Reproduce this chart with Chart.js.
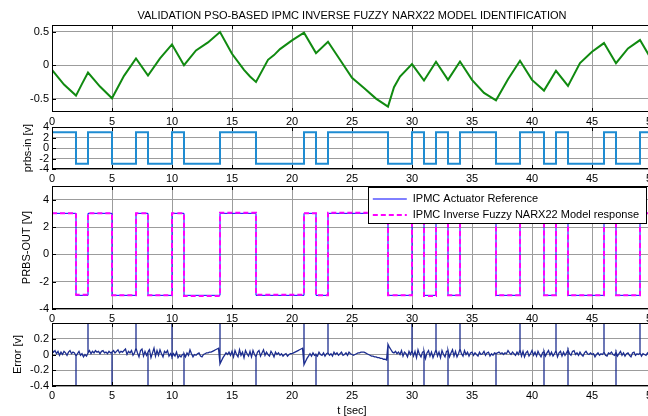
<!DOCTYPE html>
<html>
<head>
<meta charset="utf-8">
<script src="https://cdn.jsdelivr.net/npm/chart.js@4.4.1/dist/chart.umd.min.js"></script>
<style>
  html, body { margin: 0; padding: 0; background: #fff; }
  #wrap { position: relative; width: 648px; height: 416px; overflow: hidden; background: #fff; }
  #wrap canvas { position: absolute; left: 0; }
</style>
</head>
<body>
<div id="wrap">
  <canvas id="c1" width="700" height="132" style="top:0px"></canvas>
  <canvas id="c2" width="700" height="72" style="top:117px"></canvas>
  <canvas id="c3" width="700" height="153" style="top:176px"></canvas>
  <canvas id="c4" width="700" height="105" style="top:313px"></canvas>
</div>
<script>
// ---- data ----
const xTicks = [0, 5, 10, 15, 20, 25, 30, 35, 40, 45, 50];
const yTicksTop = [-0.5, 0, 0.5];
const yTicksIn = [-4, -2, 0, 2, 4];
const yTicksOut = [-4, -2, 0, 2, 4];
const yTicksErr = [-0.4, -0.2, 0, 0.2];

// top panel (green)
const greenT = [0, 1, 2, 2.5, 3, 4, 5, 6, 7, 8, 9, 10, 11, 12, 13, 14, 15, 16, 16.5, 17,
  18, 18.5, 19, 20, 21, 22, 23, 24, 25, 26, 27, 28, 28.5, 29, 30, 31, 32, 33, 34, 35,
  36, 37, 38, 39, 40, 41, 42, 43, 44, 45, 46, 47, 48, 49, 50];
const greenV = [-0.07, -0.29, -0.455, -0.28, -0.11, -0.32, -0.495, -0.16, 0.10, -0.155, 0.10, 0.31, 0.00, 0.22, 0.34, 0.495, 0.17, -0.07, -0.17, -0.25,
  0.08, 0.15, 0.24, 0.37, 0.485, 0.18, 0.35, 0.08, -0.19, -0.34, -0.50, -0.62, -0.33, -0.17, 0.015, -0.23, 0.05, -0.22, 0.055, -0.22,
  -0.415, -0.525, -0.21, 0.065, -0.22, -0.38, -0.085, -0.31, 0.03, 0.20, 0.33, 0.03, 0.25, 0.375, 0.07];

// PRBS switching instants and the level held from each instant
const prbsT = [0, 2, 3, 5, 7, 8, 10, 11, 14, 17, 21, 22, 23, 28, 30, 31, 32, 33, 34, 37, 39, 41, 42, 43, 46, 47, 49, 50];
const prbsIn = [3, -3, 3, -3, 3, -3, 3, -3, 3, -3, 3, -3, 3, -3, 3, -3, 3, -3, 3, -3, 3, -3, 3, -3, 3, -3, 3, 3];
const refOut = [3, -3, 3, -3, 3, -3, 3, -3, 3, -3, 3, -3, 3, -3, 3, -3, 3, -3, 3, -3, 3, -3, 3, -3, 3, -3, 3, 3];
const modelOut = [3.0, -2.95, 3.0, -3.0, 3.0, -3.0, 3.0, -3.05, 3.05, -2.95, 3.0, -3.0, 3.05, -3.0, 3.0, -3.05, 3.0, -3.0, 3.0, -3.0, 3.0, -3.0, 3.0, -3.0, 3.0, -3.0, 3.0, 3.0];

// error, one sample every 0.125 s from 0 to 50 (one row per second)
const errDt = 0.125;
const errV = [
  0.06, 0.03, 0.05, 0.01, 0.04, -0.01, 0.03, 0.00,
  0.04, 0.02, -0.01, 0.03, 0.05, 0.01, 0.03, 0.02,
  -0.02, 0.01, 0.04, -0.01, 0.01, -0.03, 0.00, -0.02,
  0.02, 0.05, 0.01, 0.04, 0.02, 0.05, 0.03, 0.04,
  0.01, 0.04, 0.05, 0.02, 0.03, 0.01, 0.04, 0.02,
  0.03, 0.05, 0.02, 0.04, 0.06, 0.02, 0.04, 0.03,
  0.05, 0.07, 0.00, 0.04, 0.02, 0.05, -0.01, 0.02,
  0.08, 0.02, -0.03, 0.05, 0.07, -0.02, 0.04, -0.01,
  0.03, 0.06, -0.04, 0.02, 0.08, -0.02, 0.05, -0.01,
  0.06, 0.01, -0.03, 0.04, 0.02, 0.05, -0.02, 0.01,
  -0.03, 0.01, -0.02, 0.03, -0.04, -0.01, -0.03, 0.00,
  0.01, -0.03, 0.02, -0.01, 0.06, 0.01, -0.03, 0.00,
  -0.01, 0.01, 0.02, -0.02, -0.03, 0.00, 0.01, 0.02,
  0.02, 0.03, 0.03, 0.04, 0.05, 0.06, 0.07, 0.08,
  -0.12, -0.08, -0.04, -0.01, 0.02, 0.00, 0.03, -0.01,
  0.04, -0.03, 0.05, 0.00, -0.03, 0.06, -0.01, 0.03,
  -0.04, 0.05, 0.01, -0.02, 0.04, -0.03, 0.05, 0.00,
  -0.03, 0.03, 0.05, -0.02, 0.02, 0.06, -0.01, 0.03,
  0.00, -0.02, 0.04, 0.01, -0.03, 0.03, 0.00, 0.02,
  -0.01, 0.01, -0.02, 0.00, 0.01, -0.02, 0.00, 0.01,
  0.01, 0.02, 0.03, 0.04, 0.05, 0.06, 0.07, 0.08,
  -0.13, -0.09, -0.05, -0.02, 0.01, -0.02, 0.02, -0.01,
  0.00, -0.02, 0.03, 0.00, -0.01, 0.02, -0.02, 0.01,
  0.02, -0.01, 0.01, -0.02, 0.03, 0.00, 0.02, -0.01,
  0.01, 0.03, -0.01, 0.00, 0.02, -0.01, 0.03, 0.01,
  0.00, -0.01, 0.00, 0.01, 0.02, 0.02, 0.03, 0.03,
  0.03, 0.02, 0.01, 0.00, -0.01, -0.02, -0.02, -0.03,
  -0.03, -0.04, -0.04, -0.05, -0.05, -0.06, -0.06, -0.07,
  0.13, 0.09, 0.06, 0.03, 0.02, 0.04, 0.01, 0.03,
  0.00, 0.05, -0.02, 0.03, 0.01, -0.03, 0.04, 0.00,
  0.05, -0.02, 0.04, -0.04, 0.06, 0.00, -0.03, 0.03,
  0.04, -0.05, 0.02, 0.05, -0.02, 0.03, -0.04, 0.01,
  0.06, -0.02, 0.03, -0.04, 0.05, 0.00, -0.03, 0.04,
  0.05, -0.03, 0.02, 0.06, -0.02, 0.04, -0.03, 0.01,
  0.07, 0.01, -0.02, 0.05, 0.00, 0.03, -0.02, 0.02,
  0.03, -0.01, 0.02, 0.00, -0.02, 0.03, 0.00, 0.01,
  0.04, -0.01, 0.02, 0.03, -0.02, 0.01, -0.01, 0.02,
  0.01, 0.02, 0.03, 0.01, 0.02, 0.00, 0.02, 0.01,
  0.05, 0.02, 0.00, 0.03, 0.01, -0.01, 0.03, 0.00,
  0.06, -0.02, 0.04, -0.03, 0.02, 0.04, -0.02, 0.01,
  0.05, -0.01, 0.03, -0.02, 0.04, 0.00, -0.03, 0.02,
  0.04, -0.02, 0.02, 0.05, -0.01, 0.03, -0.02, 0.01,
  0.05, -0.03, 0.02, 0.04, -0.02, 0.03, -0.01, 0.02,
  0.06, 0.01, -0.01, 0.04, 0.05, 0.00, 0.02, -0.01,
  0.03, 0.00, -0.02, 0.02, 0.04, 0.01, 0.00, 0.02,
  0.00, 0.01, -0.03, 0.00, 0.02, -0.01, 0.01, 0.00,
  0.03, -0.01, -0.02, 0.02, 0.01, 0.03, 0.00, -0.01,
  0.03, -0.02, 0.01, 0.04, -0.01, 0.02, -0.02, 0.01,
  0.02, -0.01, -0.03, 0.02, 0.03, -0.01, 0.01, 0.00,
  0.02, -0.02, 0.01, 0.00, -0.01, 0.02, -0.01, 0.00,
  0.00
];
// spikes at each PRBS edge (they run off the axis)
const spikeT = [2, 3, 5, 7, 8, 10, 11, 14, 17, 21, 22, 23, 28, 30, 31, 32, 33, 34, 37, 39, 41, 42, 43, 46, 47, 49];
const spikeV = [-1, 1, -1, 1, -1, 1, -1, 1, -1, 1, -1, 1, -1, 1, -1, 1, -1, 1, -1, 1, -1, 1, -1, 1, -1, 1];

// ---- build points ----
const toXY = (xs, ys) => xs.map((x, i) => ({x: x, y: ys[i]}));
const errPts = [];
errV.forEach((v, i) => {
  const t = i * errDt;
  errPts.push({x: t, y: v});
  const k = spikeT.indexOf(t);
  if (k >= 0) {
    errPts.push({x: t, y: spikeV[k]});
    errPts.push({x: t, y: v});
  }
});

Chart.defaults.font.family = "'Liberation Sans', Arial, Helvetica, sans-serif";
Chart.defaults.font.size = 11;
Chart.defaults.color = '#000';

const GRID = '#9c9c9c';

// black box + inward tick marks, like matlab axes
const boxPlugin = {
  id: 'box',
  afterDatasetsDraw(chart) {
    const {ctx, chartArea: a, scales: {x, y}} = chart;
    ctx.save();
    ctx.strokeStyle = '#000';
    ctx.lineWidth = 1;
    ctx.strokeRect(a.left + 0.5, a.top + 0.5, a.right - a.left - 1, a.bottom - a.top - 1);
    ctx.beginPath();
    x.ticks.forEach((t, i) => {
      const px = Math.round(x.getPixelForTick(i)) + 0.5;
      ctx.moveTo(px, a.top); ctx.lineTo(px, a.top + 4);
      ctx.moveTo(px, a.bottom); ctx.lineTo(px, a.bottom - 4);
    });
    y.ticks.forEach((t, i) => {
      const py = Math.round(y.getPixelForTick(i)) + 0.5;
      ctx.moveTo(a.left, py); ctx.lineTo(a.left + 4, py);
      ctx.moveTo(a.right, py); ctx.lineTo(a.right - 4, py);
    });
    ctx.stroke();
    ctx.restore();
  }
};

// boxed legend sitting in the top right corner of the plot
const boxLegend = {
  id: 'boxLegend',
  afterDraw(chart) {
    const {ctx, chartArea: a} = chart;
    const sets = chart.data.datasets;
    ctx.save();
    ctx.font = "11px 'Liberation Sans', Arial, sans-serif";
    const tw = Math.max(...sets.map(d => ctx.measureText(d.label).width));
    const w = 45 + tw + 7, h = 36;
    const left = a.right - 6 - w, top = a.top + 1;
    ctx.fillStyle = '#fff';
    ctx.fillRect(left, top, w, h);
    ctx.strokeStyle = '#000';
    ctx.lineWidth = 1;
    ctx.strokeRect(Math.round(left) + 0.5, top + 0.5, Math.round(w), h);
    sets.forEach((d, i) => {
      const yy = top + 12 + i * 16;
      ctx.beginPath();
      ctx.strokeStyle = d.borderColor;
      ctx.lineWidth = d.borderWidth;
      ctx.setLineDash(d.borderDash || []);
      ctx.moveTo(left + 5, yy); ctx.lineTo(left + 39, yy);
      ctx.stroke();
      ctx.setLineDash([]);
      ctx.fillStyle = '#000';
      ctx.textBaseline = 'middle';
      ctx.fillText(d.label, left + 45, yy);
    });
    ctx.restore();
  }
};

function xAxis(h, title) {
  return {
    type: 'linear', min: 0, max: 50,
    grid: {color: GRID, drawTicks: false},
    border: {display: false},
    ticks: {padding: 3, autoSkip: false, maxRotation: 0, callback: v => String(v)},
    afterBuildTicks: s => { s.ticks = xTicks.map(v => ({value: v})); },
    afterFit: s => { s.height = h; },
    title: title ? {display: true, text: title, font: {size: 11}, padding: {top: 0, bottom: 0}} : {display: false}
  };
}

function yAxis(min, max, ticks, title, pad) {
  return {
    min: min, max: max,
    grid: {color: GRID, drawTicks: false},
    border: {display: false},
    ticks: {padding: 3, autoSkip: false, callback: v => String(v)},
    afterBuildTicks: s => { s.ticks = ticks.map(v => ({value: v})); },
    afterFit: s => { s.width = 52; },
    title: title ? {display: true, text: title, font: {size: 11}, padding: {top: pad, bottom: 0}} : {display: false}
  };
}

function makeChart(id, datasets, scales, extra) {
  const opts = {
    responsive: false,
    animation: false,
    devicePixelRatio: 1,
    layout: {padding: {left: 0, right: 48, top: extra.top, bottom: 0}},
    elements: {point: {radius: 0}, line: {tension: 0}},
    plugins: {legend: {display: false}, tooltip: {enabled: false}, title: extra.title || {display: false}},
    scales: scales
  };
  return new Chart(document.getElementById(id), {
    type: 'line',
    data: {datasets: datasets},
    options: opts,
    plugins: extra.plugins
  });
}

makeChart('c1', [{
  data: toXY(greenT, greenV), borderColor: '#108a10', borderWidth: 2, clip: 0
}], {
  x: xAxis(20), y: yAxis(-0.7, 0.6, yTicksTop)
}, {
  top: 0, plugins: [boxPlugin],
  title: {display: true, fullSize: false, text: 'VALIDATION PSO-BASED IPMC INVERSE FUZZY NARX22 MODEL IDENTIFICATION',
          font: {size: 11, weight: 'normal'}, color: '#000', padding: {top: 9, bottom: 2.8}}
});

makeChart('c2', [{
  data: toXY(prbsT, prbsIn), borderColor: '#1f8cd2', borderWidth: 2, stepped: 'before', clip: 0
}], {
  x: xAxis(20), y: yAxis(-4, 4, yTicksIn, 'prbs-in [v]', 21)
}, {top: 10, plugins: [boxPlugin]});

makeChart('c3', [{
  label: 'IPMC Actuator Reference',
  data: toXY(prbsT, refOut), borderColor: '#0000ff', borderWidth: 1, stepped: 'before', order: 1, clip: 0
}, {
  label: 'IPMC Inverse Fuzzy NARX22 Model response',
  data: toXY(prbsT, modelOut), borderColor: '#ff00ff', borderWidth: 2, borderDash: [5, 3], stepped: 'before', order: 0, clip: 0
}], {
  x: xAxis(20), y: yAxis(-4, 5, yTicksOut, 'PRBS-OUT [V]', 20)
}, {top: 10, plugins: [boxPlugin, boxLegend]});

makeChart('c4', [{
  data: errPts, borderColor: '#1c2d8f', borderWidth: 1.3, clip: 0
}], {
  x: xAxis(32, 't [sec]'), y: yAxis(-0.4, 0.4, yTicksErr, 'Error [v]', 11)
}, {top: 10, plugins: [boxPlugin]});
</script>
</body>
</html>
